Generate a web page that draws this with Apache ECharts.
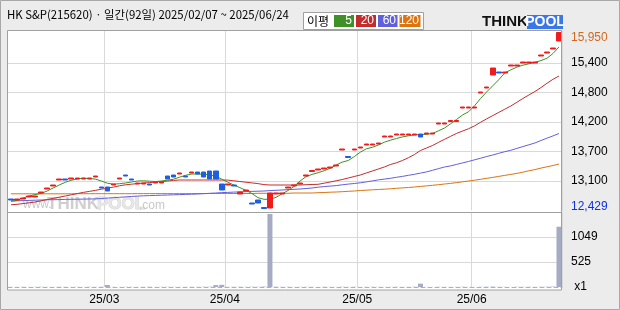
<!DOCTYPE html>
<html><head><meta charset="utf-8">
<script src="https://cdn.jsdelivr.net/npm/echarts@6/dist/echarts.min.js"></script>
<style>html,body{margin:0;padding:0;background:#ececec}#c{width:620px;height:310px}</style>
</head><body><div id="c"></div>
<script>
const dates = ['02/07','02/10','02/11','02/12','02/13','02/14','02/17','02/18','02/19','02/20','02/21','02/24','02/25','02/26','02/27','02/28',
'03/04','03/05','03/06','03/07','03/10','03/11','03/12','03/13','03/14','03/17','03/18','03/19','03/20','03/21','03/24','03/25','03/26','03/27','03/28','03/31',
'04/01','04/02','04/03','04/04','04/07','04/08','04/09','04/10','04/11','04/14','04/15','04/16','04/17','04/18','04/21','04/22','04/23','04/24','04/25','04/28','04/29','04/30',
'05/02','05/07','05/08','05/09','05/12','05/13','05/14','05/15','05/16','05/19','05/20','05/21','05/22','05/23','05/26','05/27','05/28','05/29','05/30',
'06/02','06/04','06/05','06/09','06/10','06/11','06/12','06/13','06/16','06/17','06/18','06/19','06/20','06/23','06/24'];

const opens = [12620,12600,12620,12660,12660,12740,12820,12880,13000,13020,
13020,13020,13020,13020,13060,12860,12860,12900,13020,13100,
13020,12920,12920,12920,12940,12940,13080,13100,13120,13080,
13140,13160,13160,13180,13180,12920,12900,12900,12720,12780,
12540,12600,12450,12440,12720,12720,12840,12880,12920,13080,
13170,13200,13220,13240,13280,13600,13470,13600,13640,13700,
13700,13720,13860,13860,13900,13900,13900,13900,13920,13920,
13920,14120,14120,14170,14170,14440,14440,14440,14740,14840,
15100,15160,15140,15280,15280,15340,15340,15340,15480,15540,
15620,15780];
const closes = [12600,12620,12640,12680,12680,12760,12840,12900,13020,13000,
13040,13040,13040,13040,13080,12840,12780,12920,13040,13080,
13000,12940,12940,12900,12960,12960,13020,13060,13140,13060,
13160,13120,13060,13020,13020,12800,12920,12880,12760,12800,
12520,12540,12429,12740,12740,12740,12860,12900,12940,13100,
13190,13220,13240,13260,13300,13620,13450,13620,13660,13720,
13720,13740,13880,13880,13920,13920,13920,13920,13860,13940,
13940,14140,14140,14190,14190,14460,14460,14460,14760,14860,
15240,15140,15160,15300,15300,15360,15360,15360,15500,15560,
15640,15950];
const lows = [12600,12600,12620,12660,12660,12740,12820,12880,13000,13000,
13020,13020,13020,13020,13060,12840,12780,12900,13020,13080,
13000,12920,12920,12900,12940,12940,13020,13060,13120,13060,
13140,13120,13060,13020,13020,12800,12900,12880,12720,12780,
12520,12540,12429,12440,12720,12720,12840,12880,12920,13080,
13170,13200,13220,13240,13280,13600,13450,13600,13640,13700,
13700,13720,13860,13860,13900,13900,13900,13900,13860,13920,
13920,14120,14120,14170,14170,14440,14440,14440,14740,14840,
15100,15140,15140,15280,15280,15340,15340,15340,15480,15540,
15620,15780];
const highs = [12620,12620,12640,12680,12680,12760,12840,12900,13020,13020,
13040,13040,13040,13040,13080,12860,12860,12920,13040,13100,
13020,12940,12940,12920,12960,12960,13080,13100,13140,13080,
13160,13160,13160,13180,13180,12920,12920,12900,12760,12800,
12540,12600,12450,12740,12740,12740,12860,12900,12940,13100,
13190,13220,13240,13260,13300,13620,13470,13620,13660,13720,
13720,13740,13880,13880,13920,13920,13920,13920,13920,13940,
13940,14140,14140,14190,14190,14460,14460,14460,14760,14860,
15240,15160,15160,15300,15300,15360,15360,15360,15500,15560,
15640,15950];
const volumes = [3,2,4,2,3,5,3,2,4,3,
2,3,2,4,3,5,42,3,2,4,
3,2,3,5,2,3,4,3,2,3,
4,3,5,6,40,45,3,4,5,3,
6,4,8,1533,5,3,4,2,3,4,
3,2,4,3,2,5,3,4,2,3,
4,3,2,3,4,2,3,5,70,3,
2,4,3,2,3,5,3,2,4,6,
8,4,3,2,5,3,4,3,5,6,
9,1266];
const ma5 = [12574,12592,12640,12680,12708,12732,12780,12840,12900,12954,
12994,13022,13034,13030,13018,12980,12936,12916,12926,12940,
12960,12980,12984,12976,12970,12980,12996,13016,13056,13094,
13120,13120,13114,13106,13074,13016,12956,12900,12848,12794,
12730,12648,12614,12614,12652,12722,12790,12870,12980,13068,
13112,13146,13186,13234,13300,13358,13390,13468,13556,13624,
13654,13700,13756,13796,13830,13862,13884,13902,13910,13914,
13930,13984,14040,14124,14212,14302,14366,14488,14634,14762,
14884,15006,15142,15202,15258,15296,15324,15352,15388,15434,
15530,15660];
const ma20 = [12504,12514,12528,12544,12560,12584,12608,12632,12656,12680,
12704,12728,12752,12772,12792,12816,12836,12858,12884,12904,
12916,12928,12940,12948,12960,12968,12980,12992,13000,13000,
13000,13000,13000,13000,13000,13000,12998,12984,12970,12956,
12942,12928,12908,12900,12900,12900,12900,12900,12900,12906,
12910,12914,12936,12960,12984,13010,13040,13070,13100,13140,
13180,13220,13260,13310,13344,13390,13446,13510,13590,13640,
13690,13754,13814,13874,13932,13980,14026,14084,14156,14224,
14288,14352,14416,14480,14554,14630,14700,14770,14848,14934,
15014,15080];
const ma60 = [12580,12584,12588,12592,12596,12600,12604,12606,12608,12612,
12614,12616,12618,12620,12622,12630,12638,12646,12654,12662,
12670,12678,12684,12688,12692,12696,12700,12704,12708,12712,
12716,12720,12726,12734,12740,12748,12752,12758,12762,12768,
12772,12776,12780,12788,12794,12800,12808,12814,12820,12830,
12840,12856,12868,12878,12888,12904,12918,12930,12944,12962,
12982,13002,13018,13034,13054,13072,13094,13114,13138,13162,
13194,13228,13260,13282,13312,13342,13372,13404,13436,13470,
13500,13534,13566,13594,13632,13668,13704,13740,13790,13836,
13882,13930];
const ma120 = [12724,12724,12724,12724,12724,12724,12724,12724,12724,12724,
12724,12726,12726,12726,12726,12726,12726,12726,12726,12726,
12726,12728,12728,12728,12728,12728,12728,12728,12728,12728,
12728,12730,12730,12730,12730,12730,12730,12730,12730,12730,
12730,12734,12734,12734,12734,12734,12734,12740,12740,12740,
12740,12746,12750,12756,12760,12766,12774,12780,12790,12796,
12804,12810,12816,12824,12834,12842,12850,12860,12872,12882,
12894,12906,12920,12932,12948,12964,12980,12996,13014,13034,
13052,13072,13092,13112,13132,13156,13184,13208,13238,13264,
13290,13320];

const priceTickValues = [12980, 13570, 14160, 14750, 15340];
const priceTickLabels = ['13,100', '13,700', '14,200', '14,800', '15,400'];
const volTickValues = [0, 525, 1050];
const volTickLabels = ['x1', '525', '1049'];
const xTickLabels = ['25/03', '25/04', '25/05', '25/06'];

const FONT = "'Liberation Sans', 'Noto Sans CJK KR', sans-serif";
const KFONT = "'Noto Sans CJK KR', 'Liberation Sans', sans-serif";
const C_UP = '#f01c1c', C_DN = '#1e5fe0';
const C5 = '#3f9027', C20 = '#c42c2c', C60 = '#6060dc', C120 = '#dc7410';
const GRID_C = '#d9d9d9', T = 'rgba(0,0,0,0)';

const isMonthStart = (i) => i > 0 && dates[i].slice(0, 2) !== dates[i - 1].slice(0, 2);
const lookup = (vals, labels, v) => { for (let k = 0; k < vals.length; k++) if (Math.abs(vals[k] - v) < 1) return labels[k]; return ''; };
const fmt = (n) => n.toLocaleString('en-US');

const chart = echarts.init(document.getElementById('c'), null, {renderer: 'canvas'});
const xBase = {
  type: 'category', data: dates, boundaryGap: true,
  axisTick: {show: false},
  splitLine: {show: true, interval: (i) => isMonthStart(i), lineStyle: {color: GRID_C, width: 1}}
};
chart.setOption({
  animation: false,
  backgroundColor: '#ececec',
  textStyle: {fontFamily: FONT},
  grid: [
    {left: 8, top: 31, width: 554, height: 179.5},
    {left: 8, top: 212, width: 554, height: 75}
  ],
  xAxis: [
    Object.assign({}, xBase, {gridIndex: 0, axisLine: {show: false}, axisLabel: {show: false}}),
    Object.assign({}, xBase, {gridIndex: 1,
      axisLine: {show: true, onZero: true, lineStyle: {color: '#a8b0c8', width: 1, type: [4, 3]}},
      axisLabel: {show: true, interval: (i) => isMonthStart(i), margin: 7, fontSize: 12, color: '#000', fontFamily: FONT,
        padding: [0, 6, 0, 0],
        formatter: (v) => xTickLabels.find(l => l.slice(3) === v.slice(0, 2)) || ''}})
  ],
  yAxis: [
    {gridIndex: 0, type: 'value', position: 'right', min: 12390, max: 15980, interval: 590,
      axisLine: {show: false}, axisTick: {show: false},
      axisLabel: {margin: 9, fontSize: 12, color: '#000', fontFamily: FONT, formatter: (v) => lookup(priceTickValues, priceTickLabels, v)},
      splitLine: {show: true, lineStyle: {width: 1, color: [T, GRID_C, GRID_C, GRID_C, GRID_C, GRID_C, T, T]}}},
    {gridIndex: 1, type: 'value', position: 'right', min: 0, max: 1575, interval: 525,
      axisLine: {show: false}, axisTick: {show: false},
      axisLabel: {margin: 9, fontSize: 12, color: '#000', fontFamily: FONT, formatter: (v) => { const s = lookup(volTickValues, volTickLabels, v); return s === 'x1' ? ' x1' : s; }},
      splitLine: {show: true, lineStyle: {width: 1, color: [T, GRID_C, GRID_C, T]}}}
  ],
  series: [
    {type: 'line', name: 'MA120', xAxisIndex: 0, yAxisIndex: 0, data: ma120, symbol: 'none', silent: true, z: 2, lineStyle: {width: 1, color: C120}},
    {type: 'line', name: 'MA60', xAxisIndex: 0, yAxisIndex: 0, data: ma60, symbol: 'none', silent: true, z: 2, lineStyle: {width: 1, color: C60}},
    {type: 'line', name: 'MA20', xAxisIndex: 0, yAxisIndex: 0, data: ma20, symbol: 'none', silent: true, z: 2, lineStyle: {width: 1, color: C20}},
    {type: 'line', name: 'MA5', xAxisIndex: 0, yAxisIndex: 0, data: ma5, symbol: 'none', silent: true, z: 2, lineStyle: {width: 1, color: C5}},
    {type: 'candlestick', xAxisIndex: 0, yAxisIndex: 0, barWidth: 5, z: 3,
      data: opens.map((o, i) => [o, closes[i], lows[i], highs[i]]),
      itemStyle: {color: C_UP, color0: C_DN, borderColor: C_UP, borderColor0: C_DN, borderWidth: 1}},
    {type: 'bar', xAxisIndex: 1, yAxisIndex: 1, data: volumes, barWidth: 5, itemStyle: {color: '#a4abc2'}}
  ],
  graphic: [
    {type: 'rect', z: -1, shape: {x: 8, y: 31, width: 554, height: 259}, style: {fill: '#ffffff'}},
    {type: 'rect', z: 10, shape: {x: 7.5, y: 30.5, width: 554, height: 259.5}, style: {fill: 'none', stroke: '#a0a0a0', lineWidth: 1}},
    {type: 'line', z: 10, shape: {x1: 8, y1: 212.5, x2: 561, y2: 212.5}, style: {stroke: '#a0a0a0', lineWidth: 1}},
    {type: 'rect', z: 10, shape: {x: 0.5, y: 0.5, width: 619, height: 309}, style: {fill: 'none', stroke: '#a8a8a8', lineWidth: 1}},
    // watermark
    {type: 'text', z: 1, x: 23, y: 205, style: {text: 'www.', font: '12px ' + FONT, fill: '#c8c8c8', textVerticalAlign: 'middle'}},
    {type: 'text', z: 1, x: 47, y: 204, style: {text: 'THINK', font: 'bold 17px ' + FONT, fill: '#cfcfcf', textVerticalAlign: 'middle'}},
    {type: 'text', z: 1, x: 97, y: 204, style: {text: 'POOL', font: 'bold 17px ' + FONT, fill: '#e6e6e6', stroke: '#d4d4d4', lineWidth: 1, textVerticalAlign: 'middle'}},
    {type: 'text', z: 1, x: 139, y: 206, style: {text: '.com', font: '12px ' + FONT, fill: '#c8c8c8', textVerticalAlign: 'middle'}},
    // title
    {type: 'text', z: 10, x: 7, y: 15, style: {text: 'HK S&P(215620) · 일간(92일) 2025/02/07 ~ 2025/06/24', font: '11.4px ' + KFONT, fill: '#000', textVerticalAlign: 'middle'}},
    // legend
    {type: 'rect', z: 10, shape: {x: 303.5, y: 12.5, width: 120, height: 17}, style: {fill: '#fff', stroke: '#a0a0a0', lineWidth: 1}},
    {type: 'text', z: 11, x: 307, y: 21, style: {text: '이평', font: '12px ' + KFONT, fill: '#000', textVerticalAlign: 'middle'}},
    {type: 'rect', z: 11, shape: {x: 334, y: 15, width: 20, height: 12}, style: {fill: C5}},
    {type: 'rect', z: 11, shape: {x: 356, y: 15, width: 20, height: 12}, style: {fill: C20}},
    {type: 'rect', z: 11, shape: {x: 378, y: 15, width: 19.5, height: 12}, style: {fill: C60}},
    {type: 'rect', z: 11, shape: {x: 399.5, y: 15, width: 21, height: 12}, style: {fill: C120}},
    {type: 'text', z: 12, x: 352, y: 21, style: {text: '5', font: '12px ' + FONT, fill: '#fff', textAlign: 'right', textVerticalAlign: 'middle'}},
    {type: 'text', z: 12, x: 374, y: 21, style: {text: '20', font: '12px ' + FONT, fill: '#fff', textAlign: 'right', textVerticalAlign: 'middle'}},
    {type: 'text', z: 12, x: 396, y: 21, style: {text: '60', font: '12px ' + FONT, fill: '#fff', textAlign: 'right', textVerticalAlign: 'middle'}},
    {type: 'text', z: 12, x: 419, y: 21, style: {text: '120', font: '12px ' + FONT, fill: '#fff', textAlign: 'right', textVerticalAlign: 'middle'}},
    // logo
    {type: 'text', z: 10, x: 482, y: 22, style: {text: 'THINK', font: 'bold 15px ' + FONT, fill: '#111', textVerticalAlign: 'middle'}},
    {type: 'rect', z: 10, shape: {x: 527, y: 15, width: 36, height: 14}, style: {fill: '#3b78e7'}},
    {type: 'text', z: 11, x: 545, y: 22.5, style: {text: 'POOL', font: 'bold 14px ' + FONT, fill: '#ffffff', textAlign: 'center', textVerticalAlign: 'middle'}},
    // extreme labels
    {type: 'text', z: 10, x: 571, y: 38, style: {text: fmt(Math.max(...highs)), font: '12px ' + FONT, fill: '#d2691e', textVerticalAlign: 'middle'}},
    {type: 'text', z: 10, x: 571, y: 207, style: {text: fmt(Math.min(...lows)), font: '12px ' + FONT, fill: '#1030e0', textVerticalAlign: 'middle'}}
  ]
});
</script>
</body></html>
